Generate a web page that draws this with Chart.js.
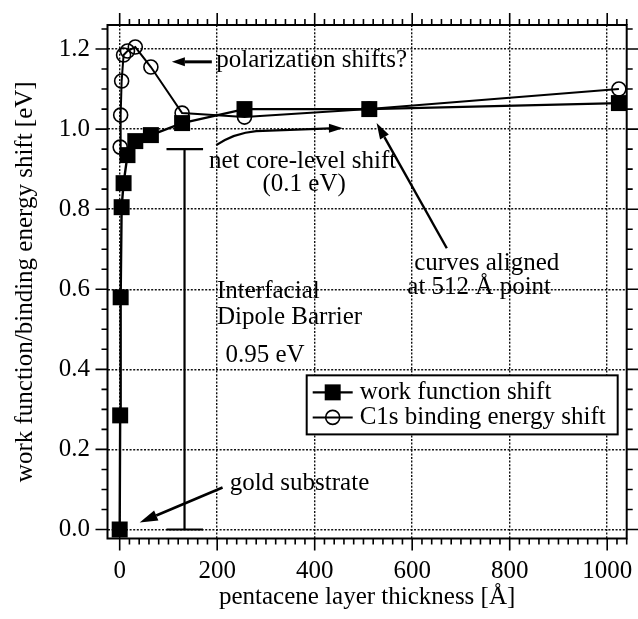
<!DOCTYPE html>
<html>
<head>
<meta charset="utf-8">
<script src="https://cdn.jsdelivr.net/npm/chart.js@4.4.1/dist/chart.umd.min.js"></script>
<style>
  html, body { margin: 0; padding: 0; background: #fff; }
  canvas { display: block; }
</style>
</head>
<body>
<canvas id="chart" width="638" height="619"></canvas>
<script>
// Pentacene on gold: work function shift and C1s core-level shift vs. film thickness
const thicknessWF = [0, 1, 2, 4, 8, 16, 32, 64, 128, 256, 512, 1024];          // Å
const workFunctionShift = [0.0, 0.285, 0.58, 0.805, 0.865, 0.935, 0.97, 0.985, 1.015, 1.05, 1.05, 1.065]; // eV
const thicknessC1s = [1, 2, 4, 8, 16, 32, 64, 128, 256, 512, 1024];             // Å
const c1sShift = [0.955, 1.035, 1.12, 1.185, 1.195, 1.205, 1.155, 1.04, 1.03, 1.05, 1.10]; // eV
const xTickValues = [0, 200, 400, 600, 800, 1000];
const yTickValues = [0.0, 0.2, 0.4, 0.6, 0.8, 1.0, 1.2];
const seriesNames = ['work function shift', 'C1s binding energy shift'];
const dipoleBarrier = 0.95;   // eV, bracket height
const dipoleAt = 133;         // Å, bracket position

const SERIF = '"Liberation Serif", "Times New Roman", serif';
const FS = 25;
const INK = '#000';

function pts(xs, ys) { return xs.map((x, i) => ({ x: x, y: ys[i] })); }

function arrow(ctx, x1, y1, x2, y2, headLen, headHalf, lw) {
  const a = Math.atan2(y2 - y1, x2 - x1);
  const bx = x2 - headLen * Math.cos(a), by = y2 - headLen * Math.sin(a);
  ctx.save();
  ctx.strokeStyle = INK; ctx.fillStyle = INK; ctx.lineWidth = lw; ctx.lineCap = 'butt';
  ctx.beginPath(); ctx.moveTo(x1, y1); ctx.lineTo(bx, by); ctx.stroke();
  ctx.beginPath();
  ctx.moveTo(x2, y2);
  ctx.lineTo(bx + headHalf * Math.sin(a), by - headHalf * Math.cos(a));
  ctx.lineTo(bx - headHalf * Math.sin(a), by + headHalf * Math.cos(a));
  ctx.closePath(); ctx.fill();
  ctx.restore();
}

// Frame with outward major/minor ticks on all four sides
const frameTicks = {
  id: 'frameTicks',
  afterDraw(chart) {
    const { ctx, chartArea: a, scales: { x, y } } = chart;
    ctx.save();
    ctx.strokeStyle = INK;
    ctx.lineWidth = 1.6;
    const major = 12, minor = 6;
    for (let v = 0; v <= 1040; v += 20) {
      const px = x.getPixelForValue(v);
      const len = (v % 200 === 0) ? major : minor;
      ctx.beginPath();
      ctx.moveTo(px, a.bottom); ctx.lineTo(px, a.bottom + len);
      ctx.moveTo(px, a.top); ctx.lineTo(px, a.top - len);
      ctx.stroke();
    }
    for (let k = 0; k <= 25; k++) {
      const v = k * 0.05;
      const py = y.getPixelForValue(v);
      const len = (k % 4 === 0) ? major : minor;
      ctx.beginPath();
      ctx.moveTo(a.left, py); ctx.lineTo(a.left - len, py);
      ctx.moveTo(a.right, py); ctx.lineTo(a.right + len, py);
      ctx.stroke();
    }
    ctx.lineWidth = 2;
    ctx.strokeRect(a.left, a.top, a.right - a.left, a.bottom - a.top);
    ctx.restore();
  }
};

// Text notes, arrows, the dipole bracket and the legend box
const notes = {
  id: 'notes',
  afterDatasetsDraw(chart) {
    const { ctx, scales: { x, y } } = chart;
    const X = v => x.getPixelForValue(v), Y = v => y.getPixelForValue(v);
    ctx.save();
    ctx.fillStyle = INK;
    ctx.strokeStyle = INK;
    ctx.font = FS + 'px ' + SERIF;
    ctx.textBaseline = 'alphabetic';
    ctx.textAlign = 'left';

    // polarization shifts?
    ctx.fillText('polarization shifts?', X(198), Y(1.156));
    arrow(ctx, X(189), Y(1.168), X(107), Y(1.168), 13, 4.5, 3);

    // net core-level shift with curved arrow
    ctx.fillText('net core-level shift', X(183), Y(0.904));
    ctx.fillText('(0.1 eV)', X(293), Y(0.845));
    ctx.save();
    ctx.lineWidth = 2.2;
    ctx.beginPath();
    ctx.moveTo(X(198), Y(0.96));
    ctx.quadraticCurveTo(X(235), Y(0.99), X(280), Y(0.995));
    ctx.lineTo(X(432), Y(1.002));
    ctx.stroke();
    ctx.restore();
    arrow(ctx, X(430), Y(1.002), X(458), Y(1.002), 14, 4.5, 2.2);

    // dipole barrier bracket
    ctx.save();
    ctx.lineWidth = 2.2;
    ctx.beginPath();
    ctx.moveTo(X(dipoleAt - 37), Y(dipoleBarrier)); ctx.lineTo(X(dipoleAt + 38), Y(dipoleBarrier));
    ctx.moveTo(X(dipoleAt), Y(dipoleBarrier)); ctx.lineTo(X(dipoleAt), Y(0));
    ctx.moveTo(X(dipoleAt - 37), Y(0)); ctx.lineTo(X(dipoleAt + 38), Y(0));
    ctx.stroke();
    ctx.restore();
    ctx.fillText('Interfacial', X(199.6), Y(0.5775));
    ctx.fillText('Dipole Barrier', X(199.6), Y(0.5125));
    ctx.fillText(dipoleBarrier.toFixed(2) + ' eV', X(217), Y(0.418));

    // curves aligned at 512 Å
    ctx.fillText('curves aligned', X(604), Y(0.6475));
    ctx.fillText('at 512 Å point', X(590), Y(0.5875));
    arrow(ctx, X(671), Y(0.7025), X(527), Y(1.015), 16, 5, 2.4);

    // gold substrate
    ctx.fillText('gold substrate', X(225.6), Y(0.0975));
    arrow(ctx, X(211), Y(0.105), X(41), Y(0.0175), 18, 5.5, 2.6);

    // legend
    const L = X(383.6), R = X(1021.5), T = Y(0.385), B = Y(0.2375);
    ctx.fillStyle = '#fff';
    ctx.fillRect(L, T, R - L, B - T);
    ctx.lineWidth = 2;
    ctx.strokeRect(L, T, R - L, B - T);
    const rows = [Y(0.3425), Y(0.28)];
    chart.data.datasets.forEach((ds, i) => {
      const cy = rows[i];
      ctx.save();
      ctx.lineWidth = ds.borderWidth;
      ctx.strokeStyle = INK;
      ctx.beginPath(); ctx.moveTo(L + 6, cy); ctx.lineTo(L + 46, cy); ctx.stroke();
      ctx.fillStyle = ds.pointBackgroundColor;
      ctx.strokeStyle = ds.pointBorderColor;
      ctx.lineWidth = ds.pointBorderWidth;
      ctx.beginPath();
      if (ds.pointStyle === 'rect') {
        const s = ds.pointRadius * Math.SQRT1_2;
        ctx.rect(L + 26 - s, cy - s, 2 * s, 2 * s);
        ctx.fill();
      } else {
        ctx.arc(L + 26, cy, ds.pointRadius, 0, Math.PI * 2);
        ctx.fill(); ctx.stroke();
      }
      ctx.restore();
      ctx.fillStyle = INK;
      ctx.textBaseline = 'middle';
      ctx.fillText(seriesNames[i], L + 53, cy);
    });
    ctx.restore();
  }
};

new Chart(document.getElementById('chart'), {
  type: 'scatter',
  data: {
    datasets: [
      {
        label: seriesNames[0],
        data: pts(thicknessWF, workFunctionShift),
        showLine: true,
        borderColor: INK,
        borderWidth: 2.4,
        pointStyle: 'rect',
        pointRadius: 11.3,
        pointBackgroundColor: INK,
        pointBorderColor: INK,
        pointBorderWidth: 0,
        tension: 0
      },
      {
        label: seriesNames[1],
        data: pts(thicknessC1s, c1sShift),
        showLine: true,
        borderColor: INK,
        borderWidth: 2,
        pointStyle: 'circle',
        pointRadius: 7,
        pointBackgroundColor: 'rgba(255,255,255,0)',
        pointBorderColor: INK,
        pointBorderWidth: 1.6,
        tension: 0
      }
    ]
  },
  options: {
    responsive: false,
    animation: false,
    devicePixelRatio: 1,
    clip: false,
    layout: { padding: { top: 25, right: 11, left: 0, bottom: 0 } },
    plugins: { legend: { display: false }, tooltip: { enabled: false } },
    scales: {
      x: {
        type: 'linear',
        min: -25, max: 1040,
        afterFit: s => { s.height = 80.5; s.paddingLeft = 0; s.paddingRight = 0; },
        afterBuildTicks: s => { s.ticks = xTickValues.map(v => ({ value: v })); },
        ticks: {
          includeBounds: false,
          padding: 17.5,
          color: INK,
          font: { family: SERIF, size: FS },
          maxRotation: 0,
          callback: v => String(v)
        },
        grid: { color: '#111', lineWidth: 1.4, drawTicks: false },
        border: { display: false, dash: [2, 1.6] },
        title: {
          display: true,
          text: 'pentacene layer thickness [Å]',
          color: INK,
          font: { family: SERIF, size: FS },
          padding: { top: 0, bottom: 7 }
        }
      },
      y: {
        type: 'linear',
        min: -0.0225, max: 1.26,
        afterFit: s => { s.width = 107.5; s.paddingTop = 0; s.paddingBottom = 0; },
        afterBuildTicks: s => { s.ticks = yTickValues.map(v => ({ value: v })); },
        ticks: {
          includeBounds: false,
          padding: 17.5,
          color: INK,
          font: { family: SERIF, size: FS },
          callback: v => Number(v).toFixed(1)
        },
        grid: { color: '#111', lineWidth: 1.4, drawTicks: false },
        border: { display: false, dash: [2, 1.6] },
        title: {
          display: true,
          text: 'work function/binding energy shift [eV]',
          color: INK,
          font: { family: SERIF, size: FS },
          padding: { top: 10, bottom: 0 }
        }
      }
    }
  },
  plugins: [frameTicks, notes]
});
</script>
</body>
</html>
